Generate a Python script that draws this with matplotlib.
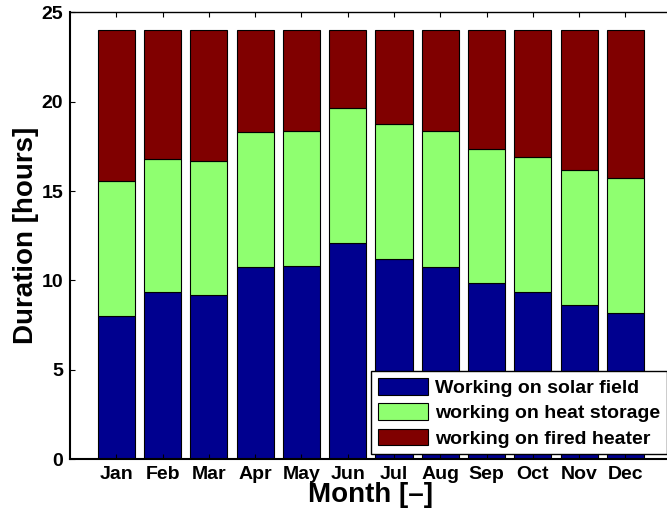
import numpy as np
import matplotlib
matplotlib.use("Agg")
import matplotlib.pyplot as plt

plt.rcParams['font.family'] = ['Liberation Sans', 'DejaVu Sans']
plt.rcParams['font.weight'] = 'bold'

months = ['Jan', 'Feb', 'Mar', 'Apr', 'May', 'Jun',
          'Jul', 'Aug', 'Sep', 'Oct', 'Nov', 'Dec']
# hours per day in each operating mode
solar_field = [8.0, 9.34, 9.21, 10.74, 10.81, 12.11,
               11.2, 10.74, 9.84, 9.34, 8.65, 8.18]
solar_plus_storage = [15.57, 16.81, 16.67, 18.29, 18.34, 19.67,
                      18.75, 18.34, 17.37, 16.89, 16.18, 15.72]
day_hours = 24

solar = np.array(solar_field)
storage = np.array(solar_plus_storage) - solar
heater = day_hours - np.array(solar_plus_storage)

labels = ['Working on solar field', 'working on heat storage',
          'working on fired heater']
colors = ['#00008f', '#8fff70', '#800000']

fig = plt.figure(figsize=(6.67, 5.18), dpi=100)
ax = fig.add_axes([0.105, 0.1133, 0.902, 0.863])

x = np.arange(1, len(months) + 1)
bottom = np.zeros(len(months))
for vals, lab, col in zip([solar, storage, heater], labels, colors):
    ax.bar(x, vals, 0.8, bottom=bottom, color=col, edgecolor='black',
           linewidth=0.8, label=lab)
    bottom += vals

ax.set_xlim(0, 13)
ax.set_ylim(0, 25)
ax.set_xticks(x)
ax.set_xticklabels(months)
ax.set_yticks(np.arange(0, 26, 5))
ax.tick_params(direction='in', length=3.5, width=0.8, top=True, right=True,
               labelsize=14, pad=5)
for s in ax.spines.values():
    s.set_linewidth(1.0)
ax.spines['bottom'].set_linewidth(1.5)
ax.spines['left'].set_linewidth(1.5)

ax.set_xlabel('Month [–]', fontsize=20, fontweight='bold', labelpad=-1)
ax.set_ylabel('Duration [hours]', fontsize=20, fontweight='bold', labelpad=2)

leg = ax.legend(loc='lower right', fontsize=14, frameon=True, fancybox=False,
                edgecolor='black', framealpha=1, borderaxespad=0.25,
                handlelength=2.6, handleheight=0.95, handletextpad=0.35,
                labelspacing=0.32, borderpad=0.35)
leg.get_frame().set_linewidth(1.0)

fig.savefig('out.png', dpi=100)
